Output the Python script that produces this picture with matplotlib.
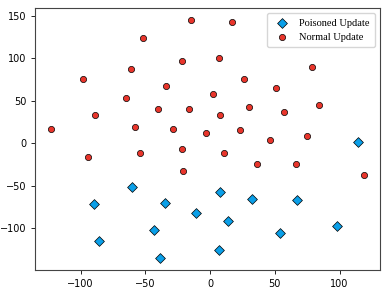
import matplotlib.pyplot as plt

# normal (benign) client updates
normal_x = [-123, -98, -89, -65, -61, -58, -52, -40, -34, -29, -22, -16, -15, -22,
            17, 7, 79, 26, 51, 2, 30, 57, 84, 8, -3, 23, 46, 75,
            -94, -54, -21, 11, 36, 66, 119]
normal_y = [17, 76, 33, 53, 87, 19, 124, 40, 67, 17, 97, 40, 145, -7,
            143, 100, 89, 75, 65, 58, 42, 37, 45, 33, 12, 15, 4, 8,
            -16, -11, -33, -11, -25, -25, -37]

# poisoned updates
poison_x = [114, -60, -90, -35, -11, -43, -86, -39, 8, 32, 67, 14, 98, 54, 7]
poison_y = [1, -51, -71, -70, -82, -102, -115, -135, -57, -66, -67, -91, -97, -106, -125]

fig = plt.figure(figsize=(3.9, 2.93), dpi=100)
ax = fig.add_axes([0.09, 0.0785, 0.884, 0.8945])

ax.scatter(poison_x, poison_y, marker='D', s=25, c='#0a9fe8', edgecolors='black',
           linewidths=0.5, label='Poisoned Update', zorder=3)
ax.scatter(normal_x, normal_y, marker='o', s=20, c='#e8352b', edgecolors='black',
           linewidths=0.5, label='Normal Update', zorder=3)

ax.set_xticks([-100, -50, 0, 50, 100])
ax.set_yticks([-100, -50, 0, 50, 100, 150])
ax.tick_params(labelsize=7, length=3, width=0.6)
for s in ax.spines.values():
    s.set_linewidth(0.8)
    s.set_color('#444444')

ax.legend(loc='upper right', prop={'family': 'Liberation Serif', 'size': 7.5},
          handletextpad=0.6, borderpad=0.5, labelspacing=0.45)

plt.savefig('out.png', dpi=100)
